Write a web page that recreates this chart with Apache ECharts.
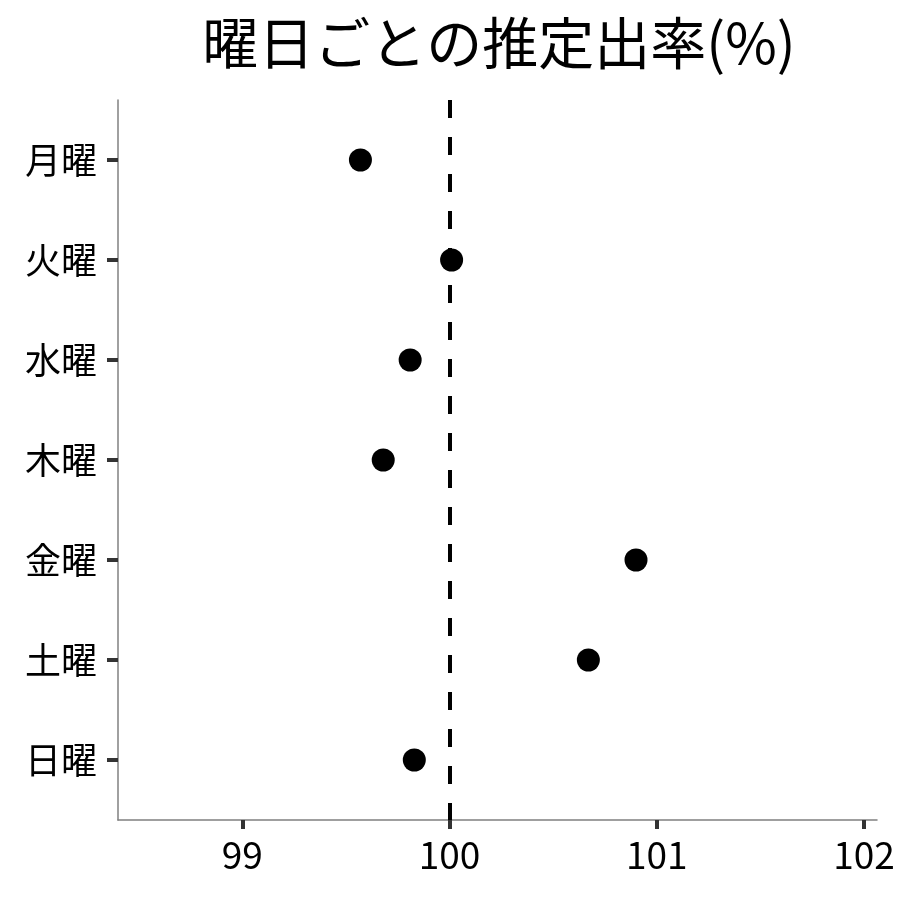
<!DOCTYPE html>
<html lang="ja" style="height: 100%">
<head>
    <meta charset="UTF-8">
    <title>曜日ごとの推定出率</title>
    <script src="https://cdn.jsdelivr.net/npm/echarts@6/dist/echarts.min.js"></script>
</head>
<body style="height: 100%; margin: 0">
<div id="main" style="width: 900px; height: 900px"></div>
<script>
    // 曜日（上から順）
    var days = ['月曜', '火曜', '水曜', '木曜', '金曜', '土曜', '日曜'];
    // 推定出率(%)
    var rates = [99.57, 100.01, 99.81, 99.68, 100.90, 100.67, 99.83];
    // x軸の目盛り
    var xTicks = [99, 100, 101, 102];
    var refLine = 100;

    var font = '"Noto Sans CJK JP", "Noto Sans", sans-serif';
    var dayIndex = days.map(function (d, i) { return i; });

    var myoption = {
        animation: false,
        backgroundColor: '#fff',
        title: {
            text: '曜日ごとの推定出率(%)',
            left: 494,
            top: 10,
            textAlign: 'center',
            textStyle: { fontFamily: font, fontSize: 56, fontWeight: 'normal', color: '#000' }
        },
        grid: { left: 118, right: 23, top: 100, bottom: 80 },
        xAxis: {
            type: 'value',
            min: 98.4,
            max: 102.063,
            splitLine: { show: false },
            axisLine: { onZero: false, lineStyle: { color: '#808080', width: 1.5 } },
            axisTick: { customValues: xTicks, length: 9, lineStyle: { color: '#333', width: 4 } },
            axisLabel: {
                customValues: xTicks,
                margin: 16,
                fontFamily: font, fontSize: 37, color: '#000'
            }
        },
        yAxis: {
            type: 'value',
            inverse: true,
            min: -0.6,
            max: 6.6,
            splitLine: { show: false },
            axisLine: { show: true, onZero: false, lineStyle: { color: '#808080', width: 1.5 } },
            axisTick: { show: true, customValues: dayIndex, length: 11, lineStyle: { color: '#333', width: 4 } },
            axisLabel: {
                customValues: dayIndex,
                margin: 21,
                fontFamily: font, fontSize: 36, color: '#000',
                formatter: function (v) { return days[Math.round(v)]; }
            }
        },
        series: [
            {
                type: 'scatter',
                symbolSize: 23,
                itemStyle: { color: '#000', opacity: 1 },
                data: rates.map(function (r, i) { return [r, i]; }),
                markLine: {
                    silent: true,
                    symbol: 'none',
                    label: { show: false },
                    lineStyle: { color: '#000', type: [18, 19], width: 4 },
                    data: [{ xAxis: refLine }]
                },
                z: 3
            }
        ]
    };
    var myChart = echarts.init(document.getElementById('main'));
    myChart.setOption(myoption);
</script>
</body>
</html>
